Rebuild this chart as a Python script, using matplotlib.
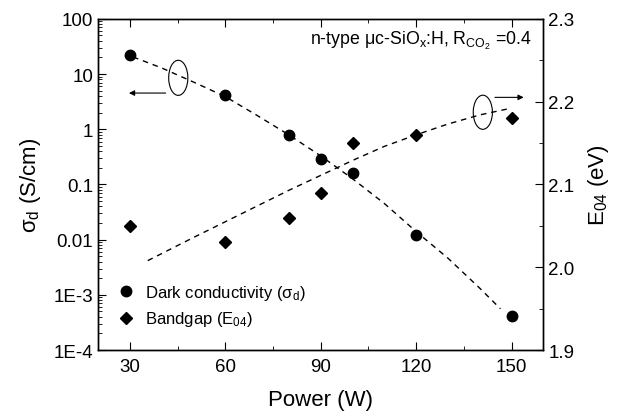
import numpy as np
import matplotlib
matplotlib.use("Agg")
import matplotlib.pyplot as plt
from matplotlib.patches import Ellipse
from matplotlib.ticker import FixedLocator, MultipleLocator, LogLocator, NullFormatter

plt.rcParams['font.family'] = ['Liberation Sans', 'DejaVu Sans']
plt.rcParams['mathtext.fontset'] = 'custom'
plt.rcParams['mathtext.rm'] = 'Liberation Sans'
plt.rcParams['mathtext.it'] = 'Liberation Sans:italic'

# measured points
power = [30, 60, 80, 90, 100, 120, 150]
sigma_d = [22.3, 4.26, 0.776, 0.288, 0.162, 0.0124, 4.2e-4]
e04 = [2.050, 2.030, 2.060, 2.090, 2.150, 2.160, 2.180]

# dashed guide lines
sigma_fit_x = [31, 40, 50, 60, 70, 80, 90, 100, 110, 120, 130, 140, 146.5]
sigma_fit_y = [20.4, 12.9, 7.16, 3.9, 1.78, 0.79, 0.329, 0.127, 0.0452, 0.014, 0.00462, 0.00132, 5.6e-4]
e04_fit_x = [35.6, 50, 60, 70, 80, 90, 100, 110, 120, 130, 140, 149.7]
e04_fit_y = [2.008, 2.036, 2.055, 2.074, 2.093, 2.111, 2.129, 2.146, 2.160, 2.173, 2.184, 2.192]

left_ticks = [1e-4, 1e-3, 0.01, 0.1, 1, 10, 100]
left_labels = ["1E-4", "1E-3", "0.01", "0.1", "1", "10", "100"]

fig = plt.figure(figsize=(6.21, 4.14), dpi=100)
ax = fig.add_axes([0.158, 0.152, 0.717, 0.800])
ax2 = ax.twinx()

ax.plot(sigma_fit_x, sigma_fit_y, color='black', lw=1.0, dashes=(4, 3.5))
ax.plot(power, sigma_d, 'o', color='black', ms=7.5, label="Dark conductivity (σ$_{\\rm d}$)")
ax2.plot(e04_fit_x, e04_fit_y, color='black', lw=1.0, dashes=(4, 3.5))
ax2.plot(power, e04, 'D', color='black', ms=6, label=r"Bandgap (E$_{\rm 04}$)")

ax.set_yscale('log')
ax.set_xlim(20, 160)
ax.set_ylim(1e-4, 100)
ax2.set_ylim(1.9, 2.3)

ax.xaxis.set_major_locator(FixedLocator([30, 60, 90, 120, 150]))
ax.xaxis.set_minor_locator(FixedLocator([45, 75, 105, 135]))
ax.yaxis.set_major_locator(FixedLocator(left_ticks))
ax.set_yticklabels(left_labels)
ax.yaxis.set_minor_locator(LogLocator(base=10, subs=np.arange(2, 10), numticks=20))
ax.yaxis.set_minor_formatter(NullFormatter())
ax2.yaxis.set_minor_locator(MultipleLocator(0.05))
ax2.set_yticks([1.9, 2.0, 2.1, 2.2, 2.3])
ax2.set_yticklabels(["1.9", "2.0", "2.1", "2.2", "2.3"])

ax.tick_params(axis='x', which='both', direction='in', top=True, labelsize=13.5, pad=6)
ax.tick_params(axis='x', which='major', length=6)
ax.tick_params(axis='x', which='minor', length=3)
ax.tick_params(axis='y', which='major', direction='in', length=6, labelsize=13.5, right=False)
ax.tick_params(axis='y', which='minor', direction='in', length=3, right=False)
ax2.tick_params(axis='y', which='major', direction='in', length=6, labelsize=13.5)
ax2.tick_params(axis='y', which='minor', direction='in', length=3)

for a in (ax, ax2):
    for s in a.spines.values():
        s.set_linewidth(1.0)

ax.set_xlabel("Power (W)", fontsize=16, labelpad=10)
ax.set_ylabel("σ$_{\\rm d}$ (S/cm)", fontsize=16, labelpad=8)
ax2.set_ylabel(r"E$_{\rm 04}$ (eV)", fontsize=16, labelpad=8)

ax.text(0.975, 0.935, "n-type μc-SiO$_{\\rm x}$:H, R$_{\\rm CO_2}$ =0.4",
        transform=ax.transAxes, ha='right', va='center', fontsize=12.8)

# ellipses with arrows marking which axis each curve belongs to
ax.add_patch(Ellipse((0.180, 0.822), 0.043, 0.106, transform=ax.transAxes,
                     fill=False, lw=0.8, color='black'))
ax.annotate("", xy=(0.063, 0.776), xytext=(0.158, 0.776), xycoords='axes fraction',
            arrowprops=dict(arrowstyle='-|>', color='black', lw=0.8, mutation_scale=8))
ax.add_patch(Ellipse((0.864, 0.718), 0.043, 0.103, transform=ax.transAxes,
                     fill=False, lw=0.8, color='black'))
ax.annotate("", xy=(0.962, 0.763), xytext=(0.885, 0.763), xycoords='axes fraction',
            arrowprops=dict(arrowstyle='-|>', color='black', lw=0.8, mutation_scale=8))

h1, l1 = ax.get_legend_handles_labels()
h2, l2 = ax2.get_legend_handles_labels()
ax.legend(h1 + h2, l1 + l2, loc='lower left', bbox_to_anchor=(0.015, 0.025), frameon=False,
          fontsize=12, handlelength=1.0, handletextpad=0.6, labelspacing=0.45, borderpad=0.3)

fig.savefig("out.png", dpi=100)
